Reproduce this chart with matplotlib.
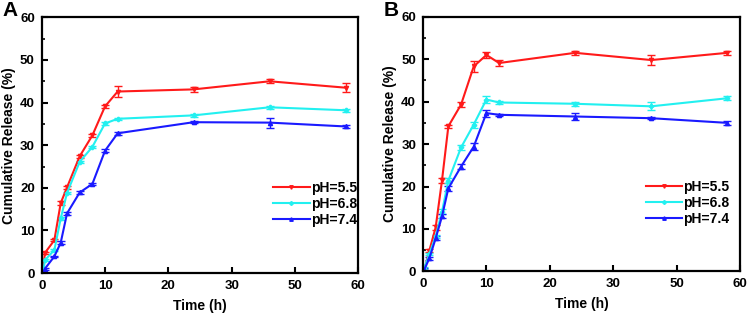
import numpy as np
import matplotlib
matplotlib.use('Agg')
import matplotlib.pyplot as plt
from matplotlib.ticker import MultipleLocator
from matplotlib.lines import Line2D

plt.rcParams['font.family'] = ['Liberation Sans', 'DejaVu Sans']
plt.rcParams['font.weight'] = 'bold'

# time points (h)
t = [0.25, 0.5, 2, 3, 4, 6, 8, 10, 12, 24, 36, 48]
tB = [0.2, 1, 2, 3, 4, 6, 8, 10, 12, 24, 36, 48]
xticks_pos = [0, 10, 20, 30, 40, 50]
xtick_labels = ['0', '10', '20', '30', '50', '60']

# Panel A
a_ph55 = [0.5, 4.7, 7.7, 16.4, 20.1, 27.4, 32.3, 39.1, 42.6, 43.1, 45.0, 43.5]
a_ph55_err = [0.2, 0.3, 0.3, 0.4, 0.4, 0.3, 0.3, 0.3, 1.2, 0.5, 0.5, 1.0]
a_ph68 = [0.3, 3.0, 5.4, 12.8, 18.8, 26.1, 29.6, 35.1, 36.2, 37.0, 38.9, 38.2]
a_ph68_err = [0.1, 0.2, 0.2, 0.3, 0.3, 0.3, 0.3, 0.3, 0.3, 0.3, 0.3, 0.3]
a_ph74 = [0.0, 1.0, 3.9, 7.1, 14.0, 18.9, 20.9, 28.7, 32.8, 35.4, 35.3, 34.4]
a_ph74_err = [0.1, 0.2, 0.2, 0.3, 0.3, 0.3, 0.3, 0.4, 0.3, 0.3, 1.2, 0.3]

# Panel B
b_ph55 = [0.2, 4.9, 10.4, 21.5, 34.2, 39.3, 48.3, 51.0, 49.1, 51.5, 49.8, 51.5]
b_ph55_err = [0.2, 0.3, 0.6, 0.6, 0.4, 0.6, 1.3, 0.8, 0.6, 0.5, 1.2, 0.5]
b_ph68 = [0.8, 4.1, 8.3, 14.1, 21.4, 29.2, 34.6, 40.5, 39.8, 39.5, 38.9, 40.8]
b_ph68_err = [0.2, 0.3, 0.4, 0.5, 0.5, 0.6, 0.7, 0.8, 0.4, 0.5, 0.9, 0.5]
b_ph74 = [0.4, 3.1, 7.8, 13.0, 19.6, 24.7, 29.4, 37.3, 36.9, 36.5, 36.1, 35.0]
b_ph74_err = [0.3, 0.4, 0.5, 0.5, 0.6, 0.6, 0.8, 0.8, 0.3, 0.9, 0.3, 0.5]

labels = ['pH=5.5', 'pH=6.8', 'pH=7.4']
colors = ['#ff1a1a', '#22f0f0', '#1a1aff']
markers = ['v', 'P', '^']

fig = plt.figure(figsize=(7.5, 3.16), dpi=100)
axA = fig.add_axes([0.0556, 0.136, 0.4221, 0.809])
axB = fig.add_axes([0.564, 0.141, 0.4227, 0.806])

def draw(ax, tt, series, errs, letter, leg_anchor):
    handles = []
    for y, e, c, m, lab in zip(series, errs, colors, markers, labels):
        ax.errorbar(tt, y, yerr=e, color=c, marker=m, ms=3, lw=1.5,
                    capsize=3, elinewidth=1, capthick=1)
        handles.append(Line2D([], [], color=c, marker=m, ms=2.5, lw=1.5, label=lab))
    ax.set_xlim(0, 50)
    ax.set_ylim(0, 60)
    ax.set_xticks(xticks_pos)
    ax.set_xticklabels(xtick_labels)
    ax.yaxis.set_major_locator(MultipleLocator(10))
    ax.yaxis.set_minor_locator(MultipleLocator(5))
    ax.tick_params(direction='in', which='major', length=4, width=1.5,
                   labelsize=9.5, pad=5)
    ax.tick_params(direction='in', which='minor', length=2, width=1.2)
    for s in ax.spines.values():
        s.set_linewidth(1.6)
    ax.set_xlabel('Time (h)', fontsize=10, fontweight='bold', labelpad=5)
    ax.set_ylabel('Cumulative Release (%)', fontsize=10, fontweight='bold', labelpad=3)
    for lbl in ax.get_xticklabels() + ax.get_yticklabels():
        lbl.set_fontweight('bold')
    ax.legend(handles=handles, loc='center left', bbox_to_anchor=leg_anchor,
              frameon=False, fontsize=10, handlelength=2.6, handletextpad=0.1,
              labelspacing=0.15, borderpad=0)
    ax.text(-0.125, 1.025, letter, transform=ax.transAxes, fontsize=15,
            fontweight='bold', ha='left', va='center')

draw(axA, t, [a_ph55, a_ph68, a_ph74], [a_ph55_err, a_ph68_err, a_ph74_err],
     'A', (0.71, 0.27))
draw(axB, tB, [b_ph55, b_ph68, b_ph74], [b_ph55_err, b_ph68_err, b_ph74_err],
     'B', (0.68, 0.27))

fig.savefig('out.png', dpi=100)
